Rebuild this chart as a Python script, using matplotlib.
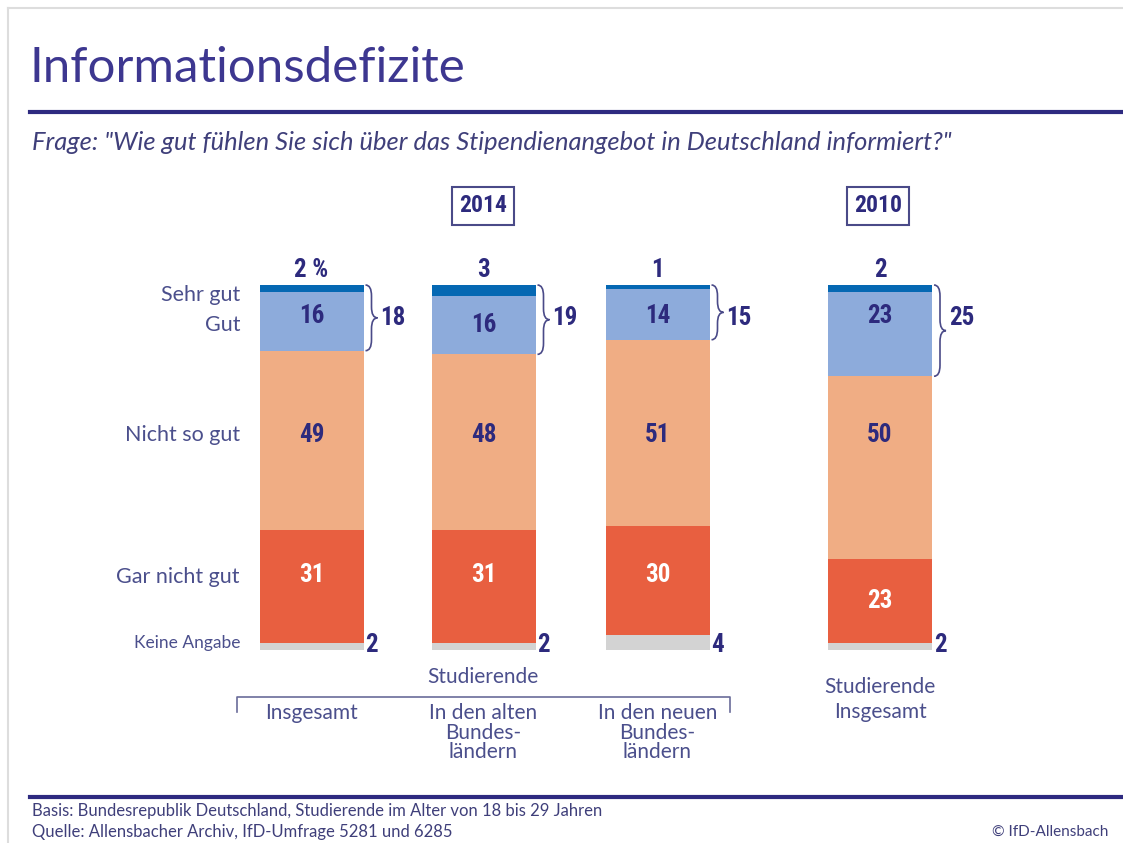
import matplotlib.pyplot as plt
from matplotlib.path import Path
from matplotlib.patches import PathPatch
import numpy as np

W, H = 1123, 843

# data (percent)
groups = ['Insgesamt', 'In den alten\nBundes-\nländern', 'In den neuen\nBundes-\nländern', 'Studierende\nInsgesamt']
sehr_gut = [2, 3, 1, 2]
gut = [16, 16, 14, 23]
nicht_so_gut = [49, 48, 51, 50]
gar_nicht_gut = [31, 31, 30, 23]
keine_angabe = [2, 2, 4, 2]
gut_total = [18, 19, 15, 25]
top_labels = ['2 %', '3', '1', '2']
row_labels = ['Sehr gut', 'Gut', 'Nicht so gut', 'Gar nicht gut', 'Keine Angabe']

# layout (pixels)
bar_x = [311.5, 483.5, 657.5, 880]
bar_w = 104
bar_top, bar_bottom = 285, 650

NAVY = '#2d2a7d'
LABEL = '#4b4f8c'
colors = {'sehr': '#0568b3', 'gut': '#8dabdb', 'nicht': '#f0ad84', 'gar': '#e85f40', 'keine': '#d3d3d3'}
NUM_FONT = ['Roboto Condensed', 'DejaVu Sans']
TXT_FONT = ['Lato', 'DejaVu Sans']

fig = plt.figure(figsize=(W / 100, H / 100), dpi=100)

# background overlay in pixel coords
bg = fig.add_axes([0, 0, 1, 1], zorder=0)
bg.set_xlim(0, W)
bg.set_ylim(H, 0)
bg.axis('off')

# page frame
bg.plot([8, W], [8, 8], color='#dddddd', lw=1.5)
bg.plot([8, 8], [8, H], color='#dddddd', lw=1.5)

# title + rules
bg.text(29, 82, 'Informationsdefizite', family=TXT_FONT, fontsize=35.5,
        color='#3d3790', va='baseline')
bg.plot([30, W], [112, 112], color='#2e2a80', lw=3)
bg.text(32, 143, 'Frage: "Wie gut fühlen Sie sich über das Stipendienangebot in Deutschland informiert?"',
        family=TXT_FONT, style='italic', fontsize=18.4, color='#3f3f7a', va='center')
bg.plot([30, W], [797, 797], color='#2e2a80', lw=3)
bg.text(32, 811, 'Basis: Bundesrepublik Deutschland, Studierende im Alter von 18 bis 29 Jahren',
        family=TXT_FONT, fontsize=12, color='#3f3f7a', va='center')
bg.text(32, 832, 'Quelle: Allensbacher Archiv, IfD-Umfrage 5281 und 6285',
        family=TXT_FONT, fontsize=12, color='#3f3f7a', va='center')
bg.text(1108, 832, '© IfD-Allensbach', family=TXT_FONT, fontsize=11, color='#3f3f7a',
        va='center', ha='right')

# year boxes
for x, yr in [(483, '2014'), (878, '2010')]:
    bg.text(x, 206, yr, family=NUM_FONT, weight='bold', fontsize=17, color=NAVY,
            ha='center', va='center',
            bbox=dict(boxstyle='square,pad=0.3', fc='white', ec='#4a4a88', lw=1.5))

# row labels
for lab, y, fs in zip(row_labels, [295, 325, 435, 577, 643], [15.5, 15.5, 15.5, 15.5, 12.5]):
    bg.text(240, y, lab, family=TXT_FONT, fontsize=fs, color=LABEL, ha='right', va='center')

# group labels and bracket
bg.text(483, 677, 'Studierende', family=TXT_FONT, fontsize=15, color=LABEL, ha='center', va='center')
bg.plot([237, 237, 730, 730], [712, 697, 697, 712], color='#6a6c9a', lw=1.2)
for i, g in enumerate(groups):
    if i < 3:
        bg.text(bar_x[i], 703, g, family=TXT_FONT, fontsize=15, color=LABEL, ha='center',
                va='top', linespacing=0.98)
    else:
        bg.text(bar_x[i], 677, g, family=TXT_FONT, fontsize=15, color=LABEL, ha='center',
                va='top', linespacing=1.3)

# bars
ax = fig.add_axes([0, (H - bar_bottom) / H, 1, (bar_bottom - bar_top) / H], zorder=1)
ax.set_xlim(0, W)
ax.set_ylim(0, 100)
ax.axis('off')

# label rows (percent height on the bar scale) used for the in-bar values
row_y = {'gut': 91.5, 'nicht': 59, 'gar': 20.5}
txt_color = {'gut': NAVY, 'nicht': NAVY, 'gar': 'white'}

segs = [('keine', keine_angabe), ('gar', gar_nicht_gut), ('nicht', nicht_so_gut),
        ('gut', gut), ('sehr', sehr_gut)]
bottom = np.zeros(len(bar_x))
for key, vals in segs:
    vals = np.array(vals, dtype=float)
    ax.bar(bar_x, vals, bottom=bottom, width=bar_w, color=colors[key], linewidth=0)
    for i, v in enumerate(vals):
        cx = bar_x[i]
        if key in row_y:
            y = row_y[key]
            if y > bottom[i] + v - 6 or y < bottom[i] + 4:
                y = bottom[i] + v / 2
            ax.text(cx, y, str(int(v)), family=NUM_FONT, weight='bold', fontsize=18,
                    color=txt_color[key], ha='center', va='center')
        elif key == 'keine':
            ax.text(cx + bar_w / 2 + 2, 1.5, str(int(v)), family=NUM_FONT, weight='bold',
                    fontsize=18, color=NAVY, ha='left', va='center')
    bottom += vals

# top labels (sehr gut)
for i, lab in enumerate(top_labels):
    ax.text(bar_x[i], 104, lab, family=NUM_FONT, weight='bold', fontsize=18, color=NAVY,
            ha='center', va='center', clip_on=False)


def brace(axis, x0, y_top, y_bot, w=12, d=3):
    xm = x0 + w / 2
    ym = (y_top + y_bot) / 2
    verts = [(x0, y_top), (xm, y_top), (xm, y_top - d),
             (xm, ym + d), (xm, ym), (x0 + w, ym),
             (xm, ym), (xm, ym - d),
             (xm, y_bot + d), (xm, y_bot), (x0, y_bot)]
    codes = [Path.MOVETO, Path.CURVE3, Path.CURVE3,
             Path.LINETO, Path.CURVE3, Path.CURVE3,
             Path.CURVE3, Path.CURVE3,
             Path.LINETO, Path.CURVE3, Path.CURVE3]
    axis.add_patch(PathPatch(Path(verts, codes), fc='none', ec='#4a4a88', lw=1.2, clip_on=False))


for i, tot in enumerate(gut_total):
    x_right = bar_x[i] + bar_w / 2
    y_bot = 100 - sehr_gut[i] - gut[i]
    brace(ax, x_right + 2, 100, y_bot)
    ax.text(x_right + 17, 91, str(tot), family=NUM_FONT, weight='bold', fontsize=18,
            color=NAVY, ha='left', va='center')

fig.savefig('out.png', dpi=100)
